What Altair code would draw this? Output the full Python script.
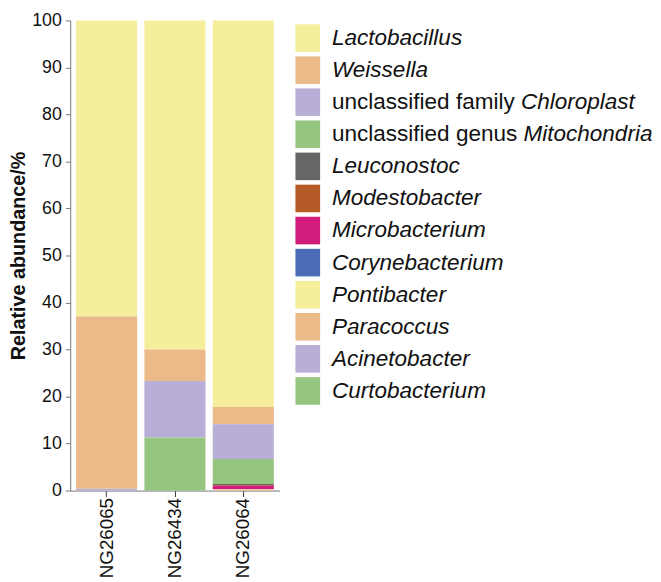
import altair as alt
import pandas as pd

samples = ["NG26065", "NG26434", "NG26064"]
genera = ["Lactobacillus", "Weissella", "unclassified family Chloroplast",
          "unclassified genus Mitochondria", "Leuconostoc", "Modestobacter",
          "Microbacterium", "Corynebacterium", "Pontibacter", "Paracoccus",
          "Acinetobacter", "Curtobacterium"]
prefixes = ["", "", "unclassified family ", "unclassified genus ", "", "", "",
            "", "", "", "", ""]
italic_parts = ["Lactobacillus", "Weissella", "Chloroplast", "Mitochondria",
                "Leuconostoc", "Modestobacter", "Microbacterium", "Corynebacterium",
                "Pontibacter", "Paracoccus", "Acinetobacter", "Curtobacterium"]
colors = ["#F5EE9D", "#EBBA88", "#B8AED6", "#96C582", "#666666", "#B35A26",
          "#D11C7D", "#4A6DB6", "#F5EE9D", "#EBBA88", "#B8AED6", "#96C582"]

# relative abundance (%) per sample, in the order of `genera`
ng26065 = [63.0, 36.6, 0.4, 0.0, 0.0, 0.0, 0.0, 0.0, 0.0, 0.0, 0.0, 0.0]
ng26434 = [70.0, 6.7, 12.0, 11.3, 0.0, 0.0, 0.0, 0.0, 0.0, 0.0, 0.0, 0.0]
ng26064 = [82.2, 3.7, 7.4, 5.3, 0.2, 0.2, 0.7, 0.0, 0.1, 0.2, 0.0, 0.0]

FONT = "Liberation Sans"
LEG_FS = 22.8

rows = []
for s, vals in zip(samples, [ng26065, ng26434, ng26064]):
    for i, (g, v) in enumerate(zip(genera, vals)):
        rows.append({"sample": s, "genus": g, "value": v, "ord": len(genera) - i})
df = pd.DataFrame(rows)

color_scale = alt.Scale(domain=genera, range=colors)

bars = alt.Chart(df).mark_bar(strokeWidth=0).encode(
    x=alt.X("sample:N", sort=samples,
            scale=alt.Scale(paddingInner=0.106, paddingOuter=0.085),
            axis=alt.Axis(title=None, labelAngle=-90, labelFontSize=19,
                          labelFont=FONT, labelColor="#111111", tickSize=6,
                          labelPadding=1, domainColor="#777777",
                          tickColor="#333333")),
    y=alt.Y("value:Q", stack="zero", scale=alt.Scale(domain=[0, 100], nice=False),
            axis=alt.Axis(values=list(range(0, 101, 10)), grid=False,
                          title="Relative abundance/%", titleFont=FONT,
                          titleFontSize=20, titleFontWeight="bold",
                          titleColor="#111111", titlePadding=3,
                          labelFont=FONT, labelFontSize=18, labelColor="#111111",
                          tickSize=5, labelPadding=4, domainColor="#777777",
                          tickColor="#777777")),
    color=alt.Color("genus:N", scale=color_scale, legend=None),
    order=alt.Order("ord:Q", sort="ascending"),
).properties(width=212, height=476)


# text width helper (Arial-like advance widths, em units)
W = {c: 0.556 for c in "abdeghnopqu"}
W.update({"c": 0.5, "k": 0.5, "s": 0.5, "v": 0.5, "x": 0.5, "y": 0.5, "z": 0.5,
          "f": 0.278, "t": 0.278, "i": 0.222, "j": 0.222, "l": 0.222, "m": 0.833,
          "r": 0.333, "w": 0.722, " ": 0.278})


def text_width(t, fs):
    return sum(W.get(ch, 0.556) for ch in t) * fs


SW_X0, SW_X1, TXT_X = 0, 25, 37
leg = pd.DataFrame({
    "genus": genera,
    "prefix": prefixes,
    "ital": italic_parts,
    "xital": [TXT_X + text_width(p, LEG_FS) for p in prefixes],
})

ybase = alt.Y("genus:N", sort=genera, axis=None,
              scale=alt.Scale(paddingInner=0.14, paddingOuter=0.12))

swatch = alt.Chart(leg).mark_rect().encode(
    y=ybase, x=alt.value(SW_X0), x2=alt.value(SW_X1),
    color=alt.Color("genus:N", scale=color_scale, legend=None),
)
txt_normal = alt.Chart(leg).mark_text(
    align="left", baseline="middle", font=FONT, fontSize=LEG_FS, color="#111111"
).encode(y=ybase, x=alt.value(TXT_X), text="prefix:N")
txt_ital = alt.Chart(leg).mark_text(
    align="left", baseline="middle", font=FONT, fontSize=LEG_FS, color="#111111",
    fontStyle="italic"
).encode(y=ybase, x=alt.X("xital:Q", scale=None), text="ital:N")

legend = alt.layer(swatch, txt_normal, txt_ital).properties(width=300, height=393)

chart = alt.hconcat(bars, legend, spacing=16).properties(
    padding={"left": 0, "top": 0, "right": 0, "bottom": 0}
).configure_view(stroke=None)

chart.save("out.html", embed_options={"renderer": "svg", "actions": False})
